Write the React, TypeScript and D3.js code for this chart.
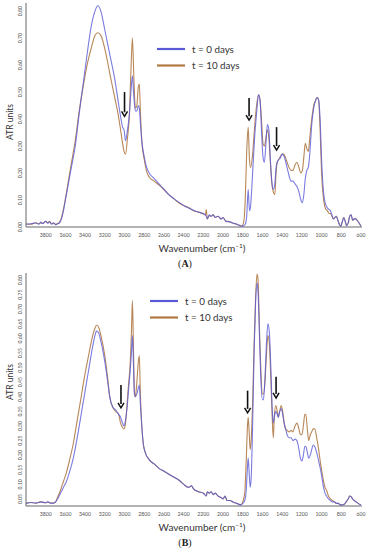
import React from "react";
import * as d3 from "d3";

// ---------- Panel A data ----------
const wnA = [
  4000, 3950, 3900, 3870, 3850, 3830, 3800, 3780, 3760, 3740, 3720, 3700, 3680, 3660, 3640, 3620, 3600, 3570, 3540, 3500,
  3460, 3420, 3380, 3340, 3300, 3272, 3240, 3200, 3150, 3100, 3066, 3040, 3020, 3005, 2990, 2970, 2950, 2935, 2920, 2905,
  2890, 2875, 2860, 2850, 2838, 2825, 2800, 2775, 2750, 2700, 2650, 2600, 2550, 2500, 2450, 2400, 2350, 2300, 2250, 2200,
  2180, 2170, 2160, 2140, 2120, 2100, 2080, 2050, 2020, 2000, 1970, 1940, 1900, 1860, 1830, 1810, 1790, 1775, 1760, 1745,
  1732, 1720, 1700, 1680, 1660, 1640, 1625, 1610, 1595, 1580, 1565, 1550, 1535, 1520, 1505, 1490, 1475, 1462, 1450, 1435,
  1420, 1400, 1385, 1370, 1350, 1330, 1310, 1290, 1270, 1250, 1230, 1210, 1195, 1180, 1165, 1150, 1135, 1120, 1100, 1080,
  1060, 1045, 1030, 1015, 1000, 985, 970, 955, 940, 925, 910, 895, 880, 865, 850, 835, 820, 805, 790, 775,
  760, 745, 730, 715, 700, 685, 670, 655, 640, 620, 600,
];
const blueA = [
  0.010, 0.012, 0.015, 0.010, 0.018, 0.012, 0.022, 0.014, 0.019, 0.010, 0.016, 0.008, 0.012, 0.015, 0.030, 0.060, 0.100, 0.160, 0.220, 0.300,
  0.420, 0.530, 0.640, 0.740, 0.800, 0.820, 0.800, 0.730, 0.640, 0.550, 0.470, 0.410, 0.370, 0.360, 0.320, 0.360, 0.420, 0.500, 0.560, 0.480,
  0.430, 0.430, 0.450, 0.440, 0.380, 0.320, 0.260, 0.220, 0.200, 0.180, 0.160, 0.140, 0.120, 0.105, 0.092, 0.080, 0.070, 0.062, 0.055, 0.050,
  0.045, 0.040, 0.030, 0.045, 0.040, 0.045, 0.035, 0.040, 0.030, 0.035, 0.020, 0.020, 0.015, 0.010, 0.005, 0.003, 0.005, 0.010, 0.040, 0.140,
  0.060, 0.080, 0.200, 0.330, 0.420, 0.490, 0.470, 0.360, 0.260, 0.240, 0.310, 0.380, 0.360, 0.250, 0.170, 0.140, 0.160, 0.220, 0.240, 0.250,
  0.255, 0.270, 0.265, 0.250, 0.220, 0.190, 0.170, 0.170, 0.160, 0.150, 0.130, 0.100, 0.090, 0.120, 0.180, 0.210, 0.220, 0.270, 0.380, 0.440,
  0.470, 0.480, 0.470, 0.400, 0.250, 0.150, 0.100, 0.080, 0.070, 0.065, 0.060, 0.045, 0.030, 0.035, 0.040, 0.025, 0.010, 0.003, 0.020, 0.035,
  0.020, 0.005, 0.015, 0.040, 0.045, 0.025, 0.030, 0.030, 0.025, 0.015, 0.003,
];
const brownA = [
  0.012, 0.010, 0.016, 0.012, 0.015, 0.014, 0.020, 0.016, 0.021, 0.012, 0.014, 0.010, 0.012, 0.018, 0.035, 0.065, 0.105, 0.170, 0.235, 0.320,
  0.430, 0.520, 0.600, 0.660, 0.710, 0.720, 0.710, 0.660, 0.570, 0.480, 0.420, 0.360, 0.310, 0.280, 0.270, 0.330, 0.420, 0.580, 0.700, 0.550,
  0.440, 0.450, 0.520, 0.530, 0.420, 0.320, 0.250, 0.205, 0.185, 0.170, 0.155, 0.138, 0.120, 0.105, 0.090, 0.080, 0.072, 0.060, 0.056, 0.048,
  0.045, 0.065, 0.030, 0.042, 0.040, 0.046, 0.036, 0.040, 0.030, 0.034, 0.022, 0.020, 0.014, 0.010, 0.006, 0.004, 0.020, 0.100, 0.280, 0.370,
  0.250, 0.220, 0.270, 0.370, 0.450, 0.490, 0.470, 0.400, 0.310, 0.300, 0.330, 0.360, 0.330, 0.240, 0.160, 0.130, 0.120, 0.200, 0.240, 0.250,
  0.260, 0.270, 0.270, 0.260, 0.240, 0.220, 0.210, 0.210, 0.230, 0.240, 0.220, 0.200, 0.210, 0.260, 0.310, 0.290, 0.280, 0.330, 0.400, 0.450,
  0.470, 0.480, 0.470, 0.360, 0.200, 0.120, 0.080, 0.065, 0.060, 0.050, 0.050, 0.040, 0.030, 0.035, 0.040, 0.025, 0.010, 0.003, 0.020, 0.035,
  0.020, 0.005, 0.015, 0.040, 0.045, 0.025, 0.030, 0.030, 0.025, 0.015, 0.003,
];

// ---------- Panel B data ----------
const wnB = [
  4000, 3950, 3900, 3850, 3800, 3780, 3750, 3720, 3700, 3680, 3650, 3620, 3590, 3560, 3520, 3480, 3440, 3400, 3360, 3330,
  3300, 3285, 3265, 3240, 3200, 3170, 3150, 3120, 3090, 3060, 3040, 3020, 3005, 2990, 2975, 2960, 2945, 2930, 2920, 2910,
  2900, 2890, 2875, 2860, 2850, 2840, 2825, 2810, 2790, 2750, 2700, 2650, 2600, 2550, 2500, 2450, 2400, 2350, 2320, 2300,
  2250, 2200, 2170, 2160, 2140, 2120, 2100, 2080, 2050, 2020, 2000, 1980, 1960, 1930, 1900, 1860, 1820, 1800, 1780, 1765,
  1752, 1745, 1735, 1725, 1715, 1700, 1685, 1670, 1655, 1645, 1630, 1615, 1600, 1590, 1575, 1560, 1545, 1530, 1515, 1500,
  1490, 1480, 1465, 1450, 1440, 1425, 1410, 1395, 1380, 1365, 1350, 1330, 1310, 1290, 1270, 1250, 1230, 1215, 1200, 1185,
  1170, 1160, 1145, 1130, 1115, 1100, 1085, 1070, 1050, 1030, 1010, 995, 980, 965, 950, 930, 910, 890, 870, 850,
  830, 810, 790, 770, 750, 730, 715, 700, 685, 670, 650, 630, 600,
];
const blueB = [
  0.035, 0.038, 0.036, 0.040, 0.037, 0.040, 0.036, 0.036, 0.040, 0.050, 0.070, 0.090, 0.110, 0.140, 0.190, 0.260, 0.340, 0.420, 0.500, 0.560,
  0.610, 0.625, 0.620, 0.590, 0.520, 0.450, 0.400, 0.365, 0.355, 0.340, 0.330, 0.310, 0.300, 0.320, 0.360, 0.420, 0.480, 0.550, 0.610, 0.520,
  0.410, 0.400, 0.410, 0.430, 0.440, 0.380, 0.300, 0.240, 0.210, 0.185, 0.170, 0.155, 0.145, 0.135, 0.125, 0.115, 0.100, 0.090, 0.095, 0.085,
  0.075, 0.070, 0.060, 0.075, 0.070, 0.075, 0.065, 0.070, 0.060, 0.055, 0.050, 0.060, 0.045, 0.045, 0.040, 0.035, 0.030, 0.035, 0.045, 0.080,
  0.160, 0.190, 0.140, 0.090, 0.120, 0.300, 0.550, 0.720, 0.790, 0.760, 0.600, 0.450, 0.390, 0.390, 0.460, 0.580, 0.650, 0.620, 0.500, 0.350,
  0.310, 0.330, 0.350, 0.340, 0.330, 0.350, 0.360, 0.340, 0.310, 0.290, 0.270, 0.260, 0.260, 0.250, 0.255, 0.250, 0.220, 0.190, 0.180, 0.200,
  0.230, 0.230, 0.210, 0.190, 0.200, 0.220, 0.235, 0.230, 0.210, 0.180, 0.150, 0.120, 0.090, 0.070, 0.060, 0.050, 0.045, 0.040, 0.040, 0.035,
  0.035, 0.030, 0.030, 0.032, 0.040, 0.050, 0.060, 0.058, 0.050, 0.045, 0.040, 0.035, 0.030,
];
const brownB = [
  0.035, 0.038, 0.036, 0.040, 0.037, 0.040, 0.036, 0.036, 0.040, 0.055, 0.080, 0.110, 0.140, 0.180, 0.240, 0.320, 0.400, 0.480, 0.550, 0.600,
  0.635, 0.645, 0.640, 0.610, 0.540, 0.460, 0.400, 0.365, 0.350, 0.340, 0.310, 0.295, 0.290, 0.310, 0.370, 0.440, 0.500, 0.620, 0.730, 0.580,
  0.420, 0.400, 0.450, 0.520, 0.540, 0.420, 0.300, 0.240, 0.210, 0.185, 0.170, 0.155, 0.145, 0.135, 0.125, 0.115, 0.100, 0.090, 0.095, 0.085,
  0.075, 0.070, 0.060, 0.075, 0.070, 0.075, 0.065, 0.070, 0.060, 0.055, 0.050, 0.060, 0.045, 0.045, 0.040, 0.035, 0.030, 0.040, 0.070, 0.180,
  0.300, 0.330, 0.280, 0.220, 0.250, 0.380, 0.580, 0.740, 0.820, 0.800, 0.630, 0.480, 0.410, 0.410, 0.450, 0.540, 0.610, 0.580, 0.460, 0.320,
  0.260, 0.330, 0.370, 0.350, 0.330, 0.350, 0.370, 0.350, 0.310, 0.290, 0.285, 0.280, 0.285, 0.280, 0.300, 0.310, 0.290, 0.270, 0.270, 0.300,
  0.340, 0.340, 0.290, 0.250, 0.270, 0.280, 0.290, 0.290, 0.260, 0.220, 0.170, 0.140, 0.110, 0.090, 0.080, 0.060, 0.050, 0.045, 0.040, 0.035,
  0.035, 0.030, 0.030, 0.032, 0.040, 0.050, 0.060, 0.058, 0.050, 0.045, 0.040, 0.035, 0.030,
];

// ---------- ticks, legend, annotations ----------
const xTicks = [3800, 3600, 3400, 3200, 3000, 2800, 2600, 2400, 2200, 2000, 1800, 1600, 1400, 1200, 1000, 800, 600];
const yTicksA = [0, 0.1, 0.2, 0.3, 0.4, 0.5, 0.6, 0.7, 0.8];
const yTicksB = [0.05, 0.1, 0.15, 0.2, 0.25, 0.3, 0.35, 0.4, 0.45, 0.5, 0.55, 0.6, 0.65, 0.7, 0.75, 0.8];
const seriesNames = ["t = 0 days", "t = 10 days"];
const seriesColors = ["#5a5ad8", "#b07a45"];
// arrows: wavenumber, tail value, tip value
const arrowsA = [
  [3000, 0.5, 0.41],
  [1736, 0.478, 0.396],
  [1457, 0.37, 0.285],
];
const arrowsB = [
  [3036, 0.44, 0.362],
  [1751, 0.421, 0.345],
  [1462, 0.469, 0.396],
];

const W = 369;
const H = 550;
const FONT = "Lato, 'Open Sans', sans-serif";

type PanelProps = {
  wn: number[];
  s0: number[];
  s1: number[];
  yTicks: number[];
  yDomain: [number, number];
  yRange: [number, number];
  arrows: number[][];
  legendX: number;
  legendY: number;
  labelLetter: string;
  yTitleY: number;
};

function Panel(p: PanelProps) {
  const x = d3.scaleLinear().domain([4000, 600]).range([26, 361]);
  const y = d3.scaleLinear().domain(p.yDomain).range(p.yRange);
  const line = (vals: number[]) =>
    d3
      .line<number>()
      .x((_, i) => x(p.wn[i]))
      .y((v) => y(v))
      .curve(d3.curveMonotoneX)(vals) || "";
  const y0 = p.yRange[0];
  const yTop = p.yRange[1];
  return (
    <g>
      {/* axes */}
      <line x1={26} x2={26} y1={yTop} y2={y0} stroke="#666" strokeWidth={1} />
      <line x1={26} x2={362} y1={y0} y2={y0} stroke="#666" strokeWidth={1} />
      {xTicks.map((t) => (
        <text key={t} x={x(t)} y={y0 + 9.5} fontSize={5.2} fill="#555" textAnchor="middle" fontFamily={FONT}>
          {t}
        </text>
      ))}
      {p.yTicks.map((t) => (
        <text
          key={t}
          transform={`translate(21.5,${y(t)}) rotate(-90)`}
          fontSize={5.2}
          fill="#555"
          textAnchor="middle"
          fontFamily={FONT}
        >
          {t.toFixed(2)}
        </text>
      ))}
      <text
        transform={`translate(13,${p.yTitleY}) rotate(-90)`}
        fontSize={8.5}
        fill="#333"
        textAnchor="middle"
        fontFamily={FONT}
      >
        ATR units
      </text>
      <text x={202} y={y0 + 24.5} fontSize={10} fill="#333" textAnchor="middle" fontFamily={FONT}>
        Wavenumber (cm
        <tspan dy={-3.5} fontSize={6.5}>
          −1
        </tspan>
        <tspan dy={3.5}>)</tspan>
      </text>
      <text x={185} y={y0 + 39.5} fontSize={10} fill="#222" textAnchor="middle" fontFamily="'Liberation Serif', serif">
        (<tspan fontWeight="bold">{p.labelLetter}</tspan>)
      </text>
      {/* spectra */}
      <path d={line(p.s1)} fill="none" stroke={seriesColors[1]} strokeWidth={1.1} strokeOpacity={0.9} />
      <path d={line(p.s0)} fill="none" stroke={seriesColors[0]} strokeWidth={1.1} strokeOpacity={0.8} />
      {/* arrows */}
      {p.arrows.map((a, i) => {
        const ax = x(a[0]);
        const yt = y(a[1]);
        const yp = y(a[2]);
        return (
          <g key={i}>
            <line x1={ax} x2={ax} y1={yt} y2={yp - 4} stroke="#111" strokeWidth={1.6} />
            <path d={`M${ax - 3},${yp - 5} L${ax},${yp} L${ax + 3},${yp - 5}`} fill="none" stroke="#111" strokeWidth={1.5} />
          </g>
        );
      })}
      {/* legend */}
      {seriesNames.map((n, i) => (
        <g key={n}>
          <line
            x1={p.legendX}
            x2={p.legendX + 28}
            y1={p.legendY + i * 16.5}
            y2={p.legendY + i * 16.5}
            stroke={seriesColors[i]}
            strokeWidth={2.2}
          />
          <text x={p.legendX + 35} y={p.legendY + i * 16.5 + 3.5} fontSize={9.8} fill="#333" fontFamily={FONT}>
            {n}
          </text>
        </g>
      ))}
    </g>
  );
}

export default function App() {
  return (
    <svg width={W} height={H} style={{ position: "absolute", left: 0, top: 0, background: "#fff" }}>
      <Panel
        wn={wnA}
        s0={blueA}
        s1={brownA}
        yTicks={yTicksA}
        yDomain={[0, 0.83]}
        yRange={[227, 3]}
        arrows={arrowsA}
        legendX={157}
        legendY={49}
        labelLetter="A"
        yTitleY={122}
      />
      <Panel
        wn={wnB}
        s0={blueB}
        s1={brownB}
        yTicks={yTicksB}
        yDomain={[0.026, 0.824]}
        yRange={[506, 273]}
        arrows={arrowsB}
        legendX={150}
        legendY={301}
        labelLetter="B"
        yTitleY={382}
      />
    </svg>
  );
}
